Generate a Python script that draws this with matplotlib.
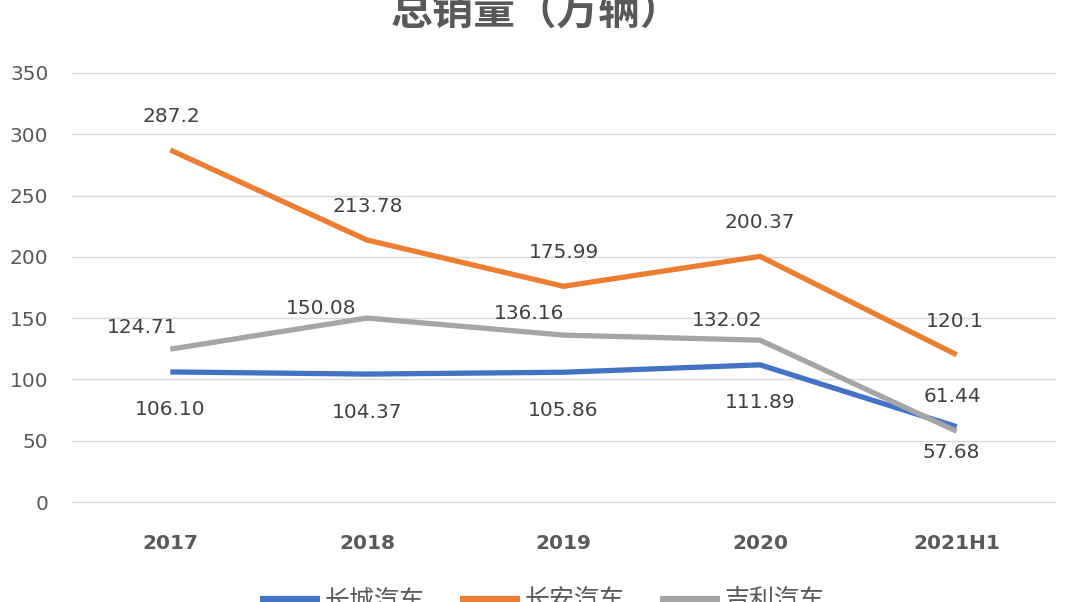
import matplotlib
matplotlib.use("Agg")
import matplotlib.pyplot as plt

plt.rcParams['font.family'] = ['DejaVu Sans', 'Noto Sans CJK SC']

categories = ["2017", "2018", "2019", "2020", "2021H1"]
series_names = ["长城汽车", "长安汽车", "吉利汽车"]
great_wall = [106.10, 104.37, 105.86, 111.89, 61.44]
changan = [287.2, 213.78, 175.99, 200.37, 120.1]
geely = [124.71, 150.08, 136.16, 132.02, 57.68]
y_ticks = [0, 50, 100, 150, 200, 250, 300, 350]
title = "总销量（万辆）"

colors = ["#4472C4", "#ED7D31", "#A5A5A5"]

fig = plt.figure(figsize=(10.8, 6.02), dpi=100)
ax = fig.add_axes([72/1080, 1-502/602, (1055-72)/1080, (502-73)/602])

x = list(range(len(categories)))
all_series = [great_wall, changan, geely]
lines = []
for vals, col, name in zip(all_series, colors, series_names):
    ln, = ax.plot(x, vals, color=col, lw=3.8, solid_joinstyle='round',
                  solid_capstyle='butt', label=name)
    lines.append(ln)

# label offsets in pixels (dx, dy)
gw_off = [(0, -38), (0, -38), (0, -38), (0, -38), (-4, 30)]
ca_off = [(1, 33), (1, 33), (0, 34), (0, 34), (-2, 33)]
gl_off = [(-28, 22), (-46, 10), (-34, 22), (-33, 20), (-5, -21)]

gw_lbl = ["{:.2f}".format(v) for v in great_wall]
ca_lbl = [str(v) for v in changan]
gl_lbl = [str(v) for v in geely]

for vals, labels, offs in [(great_wall, gw_lbl, gw_off), (changan, ca_lbl, ca_off), (geely, gl_lbl, gl_off)]:
    for xi, v, t, o in zip(x, vals, labels, offs):
        ax.annotate(t, (xi, v), xytext=o, textcoords='offset pixels',
                    ha='center', va='center', fontsize=14.5, color='#404040')

ax.set_xlim(-0.5, len(categories) - 0.5)
ax.set_ylim(0, 350)
ax.set_yticks(y_ticks)
ax.set_yticklabels([str(t) for t in y_ticks])
ax.set_xticks(x)
ax.set_xticklabels(categories, fontweight='bold')
ax.grid(axis='y', color='#D9D9D9', lw=1.0)
for gl in ax.get_ygridlines():
    gl.set_clip_on(False)
ax.set_axisbelow(True)
for s in ax.spines.values():
    s.set_visible(False)
ax.tick_params(axis='y', length=0, pad=17, labelsize=14.5, labelcolor='#595959')
ax.tick_params(axis='x', length=0, pad=23, labelsize=14.5, labelcolor='#595959')

fig.text(536/1080, 1-13/602, title, ha='center', va='center', fontsize=30,
         fontweight='bold', color='#595959', family=['Noto Sans CJK SC', 'DejaVu Sans'])

leg = fig.legend(handles=lines, labels=series_names, loc='center',
                 bbox_to_anchor=(542/1080, 1-601/602), ncol=3, frameon=False,
                 prop={'family': ['Noto Sans CJK SC', 'DejaVu Sans'], 'size': 18},
                 handlelength=2.4, handletextpad=0.2, columnspacing=1.4,
                 labelcolor='#595959')
for h in leg.get_lines():
    h.set_linewidth(4.5)

fig.savefig("out.png", dpi=100)
